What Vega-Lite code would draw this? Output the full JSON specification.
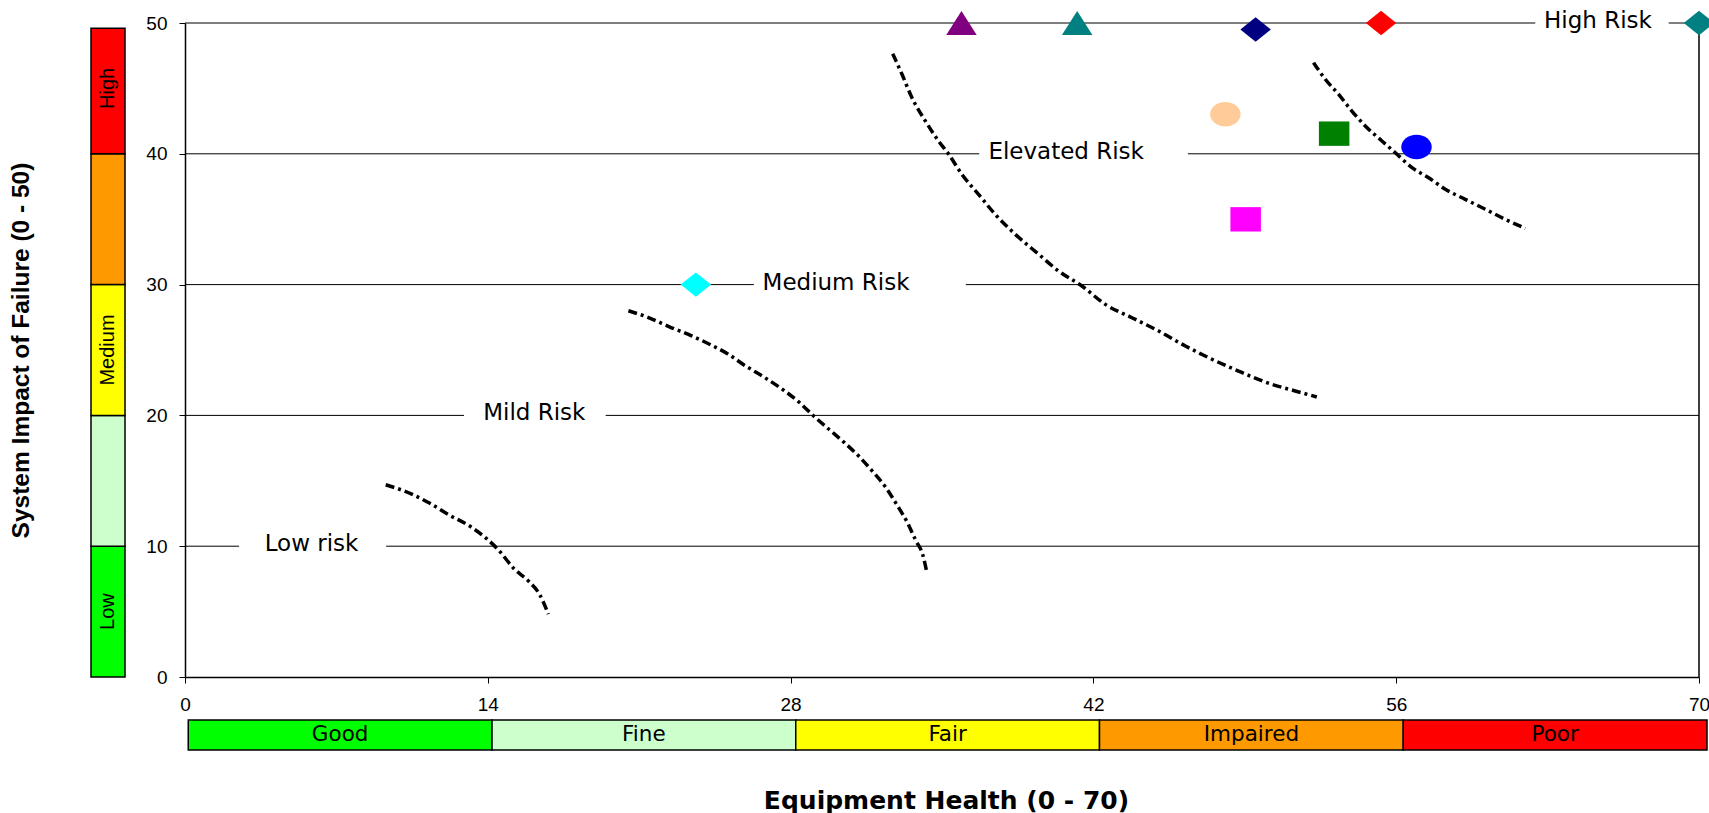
{
  "$schema": "https://vega.github.io/schema/vega-lite/v6.json",
  "background": "white",
  "padding": {"left": 8, "top": 10, "right": 0, "bottom": 0},
  "config": {
    "view": {"stroke": null},
    "font": "DejaVu Sans",
    "axis": {"domainColor": "black", "tickColor": "black", "labelColor": "black", "titleColor": "black", "grid": false}
  },
  "bounds": "flush",
  "spacing": 60,
  "resolve": {"scale": {"color": "independent", "shape": "independent"}},
  "hconcat": [
    {
      "width": 34,
      "height": 654,
      "layer": [
        {
          "data": {"values": [
            {"band": "Low", "lo": 0, "hi": 10},
            {"band": "Low-Medium", "lo": 10, "hi": 20},
            {"band": "Medium", "lo": 20, "hi": 30},
            {"band": "Medium-High", "lo": 30, "hi": 40},
            {"band": "High", "lo": 40, "hi": 49.6}
          ]},
          "mark": {"type": "rect", "stroke": "black", "strokeWidth": 1.5},
          "encoding": {
            "y": {"field": "lo", "type": "quantitative", "scale": {"domain": [0, 50], "nice": false},
              "axis": {"title": "System Impact of Failure (0 - 50)", "labels": false, "ticks": false, "domain": false,
                "titleFont": "Liberation Sans", "titleFontSize": 24.5, "titleFontWeight": "bold", "titlePadding": 58}},
            "y2": {"field": "hi"},
            "color": {"field": "band", "type": "nominal", "legend": null,
              "scale": {"domain": ["Low", "Low-Medium", "Medium", "Medium-High", "High"],
                "range": ["#00FF00", "#CCFFCC", "#FFFF00", "#FF9900", "#FF0000"]}}
          }
        },
        {
          "data": {"values": [
            {"label": "Low", "mid": 5},
            {"label": "Medium", "mid": 25},
            {"label": "High", "mid": 45}
          ]},
          "mark": {"type": "text", "angle": 270, "font": "Liberation Sans", "fontSize": 20, "baseline": "middle", "align": "center", "color": "black"},
          "encoding": {
            "y": {"field": "mid", "type": "quantitative"},
            "text": {"field": "label"}
          }
        }
      ]
    },
    {
      "bounds": "flush",
      "spacing": 43,
      "resolve": {"scale": {"color": "independent", "shape": "independent"}},
      "vconcat": [
        {
          "width": 1514,
          "height": 654,
          "encoding": {
            "x": {"field": "x", "type": "quantitative", "scale": {"domain": [0, 70], "nice": false, "zero": false},
              "axis": {"title": null, "values": [0, 14, 28, 42, 56, 70], "tickSize": 6, "labelPadding": 12, "labelFont": "Liberation Sans", "labelFontSize": 19, "domainWidth": 1.5, "labelFlush": false}},
            "y": {"field": "y", "type": "quantitative", "scale": {"domain": [0, 50], "nice": false, "zero": false},
              "axis": {"title": null, "values": [0, 10, 20, 30, 40, 50], "tickSize": 6, "labelPadding": 12, "labelFont": "Liberation Sans", "labelFontSize": 19, "domainWidth": 1.5, "labelFlush": false}}
          },
          "layer": [
            {
              "data": {"values": [
                {"x": 0, "x2": 2.5, "y": 10}, {"x": 9.3, "x2": 70, "y": 10},
                {"x": 0, "x2": 12.9, "y": 20}, {"x": 19.45, "x2": 70, "y": 20},
                {"x": 0, "x2": 26.3, "y": 30}, {"x": 36.1, "x2": 70, "y": 30},
                {"x": 0, "x2": 36.72, "y": 40}, {"x": 46.37, "x2": 70, "y": 40},
                {"x": 0, "x2": 62.43, "y": 50}, {"x": 68.6, "x2": 70, "y": 50}
              ]},
              "mark": {"type": "rule", "color": "black", "strokeWidth": 1},
              "encoding": {"x2": {"field": "x2"}}
            },
            {
              "data": {"values": [{"x": 70, "y": 0, "y2": 50}]},
              "mark": {"type": "rule", "color": "black", "strokeWidth": 1.5},
              "encoding": {"y2": {"field": "y2"}}
            },
            {
              "data": {"values": [
                {"curve": "A", "x": 9.28, "y": 14.7}, {"curve": "A", "x": 10.46, "y": 14.0}, {"curve": "A", "x": 11.3, "y": 13.3},
                {"curve": "A", "x": 12.2, "y": 12.4}, {"curve": "A", "x": 13.2, "y": 11.5}, {"curve": "A", "x": 14.0, "y": 10.5},
                {"curve": "A", "x": 14.5, "y": 9.7}, {"curve": "A", "x": 15.2, "y": 8.3}, {"curve": "A", "x": 15.9, "y": 7.3},
                {"curve": "A", "x": 16.4, "y": 6.3}, {"curve": "A", "x": 16.8, "y": 4.8},
                {"curve": "B", "x": 20.5, "y": 28.0}, {"curve": "B", "x": 21.4, "y": 27.5}, {"curve": "B", "x": 22.5, "y": 26.7},
                {"curve": "B", "x": 23.4, "y": 26.1}, {"curve": "B", "x": 24.3, "y": 25.4}, {"curve": "B", "x": 25.1, "y": 24.7},
                {"curve": "B", "x": 25.9, "y": 23.8}, {"curve": "B", "x": 26.8, "y": 22.9}, {"curve": "B", "x": 27.7, "y": 21.9},
                {"curve": "B", "x": 28.4, "y": 21.0}, {"curve": "B", "x": 29.1, "y": 19.9}, {"curve": "B", "x": 29.8, "y": 18.9},
                {"curve": "B", "x": 30.5, "y": 17.9}, {"curve": "B", "x": 31.2, "y": 16.8}, {"curve": "B", "x": 31.8, "y": 15.7},
                {"curve": "B", "x": 32.4, "y": 14.5}, {"curve": "B", "x": 32.9, "y": 13.2}, {"curve": "B", "x": 33.4, "y": 11.8},
                {"curve": "B", "x": 33.8, "y": 10.4}, {"curve": "B", "x": 34.1, "y": 9.4}, {"curve": "B", "x": 34.3, "y": 8.0},
                {"curve": "C", "x": 32.72, "y": 47.65}, {"curve": "C", "x": 33.15, "y": 46.08}, {"curve": "C", "x": 33.61, "y": 44.29},
                {"curve": "C", "x": 34.23, "y": 42.51}, {"curve": "C", "x": 34.84, "y": 40.98}, {"curve": "C", "x": 35.31, "y": 39.96},
                {"curve": "C", "x": 35.92, "y": 38.43}, {"curve": "C", "x": 36.69, "y": 36.9}, {"curve": "C", "x": 37.46, "y": 35.37},
                {"curve": "C", "x": 38.39, "y": 33.84}, {"curve": "C", "x": 39.47, "y": 32.32}, {"curve": "C", "x": 40.39, "y": 31.04},
                {"curve": "C", "x": 41.47, "y": 29.89}, {"curve": "C", "x": 42.55, "y": 28.49}, {"curve": "C", "x": 43.78, "y": 27.47},
                {"curve": "C", "x": 45.02, "y": 26.45}, {"curve": "C", "x": 46.25, "y": 25.31}, {"curve": "C", "x": 47.17, "y": 24.54},
                {"curve": "C", "x": 48.71, "y": 23.39}, {"curve": "C", "x": 50.25, "y": 22.38}, {"curve": "C", "x": 51.33, "y": 21.87},
                {"curve": "C", "x": 52.33, "y": 21.41},
                {"curve": "D", "x": 52.18, "y": 46.97}, {"curve": "D", "x": 52.72, "y": 45.7}, {"curve": "D", "x": 53.34, "y": 44.55},
                {"curve": "D", "x": 53.95, "y": 43.27}, {"curve": "D", "x": 54.57, "y": 42.13}, {"curve": "D", "x": 55.34, "y": 40.98},
                {"curve": "D", "x": 55.96, "y": 40.08}, {"curve": "D", "x": 56.73, "y": 38.94}, {"curve": "D", "x": 57.5, "y": 38.17},
                {"curve": "D", "x": 58.27, "y": 37.29}, {"curve": "D", "x": 59.19, "y": 36.52}, {"curve": "D", "x": 60.12, "y": 35.76},
                {"curve": "D", "x": 61.04, "y": 34.99}, {"curve": "D", "x": 61.97, "y": 34.3}
              ]},
              "mark": {"type": "line", "color": "black", "strokeWidth": 3.5, "strokeDash": [9, 4, 3, 4], "interpolate": "monotone"},
              "encoding": {"detail": {"field": "curve", "type": "nominal"}}
            },
            {
              "data": {"values": [
                {"item": "Unit 1", "marker": "triangle", "x": 35.9, "y": 50},
                {"item": "Unit 2", "marker": "triangle", "x": 41.25, "y": 50},
                {"item": "Unit 3", "marker": "diamond", "x": 49.5, "y": 49.5},
                {"item": "Unit 4", "marker": "diamond", "x": 55.3, "y": 50},
                {"item": "Unit 5", "marker": "diamond", "x": 70, "y": 50},
                {"item": "Unit 6", "marker": "ellipse", "x": 48.1, "y": 43.02},
                {"item": "Unit 7", "marker": "rectangle", "x": 53.13, "y": 41.54},
                {"item": "Unit 8", "marker": "ellipse", "x": 56.94, "y": 40.52},
                {"item": "Unit 9", "marker": "rectangle", "x": 49.04, "y": 34.99},
                {"item": "Unit 10", "marker": "diamond", "x": 23.62, "y": 30}
              ]},
              "mark": {"type": "point", "filled": true, "size": 930, "opacity": 1},
              "encoding": {
                "shape": {"field": "marker", "type": "nominal", "legend": null,
                  "scale": {"domain": ["triangle", "diamond", "ellipse", "rectangle"],
                    "range": ["M0,-0.78L1,0.78L-1,0.78Z", "M0,-0.8L1,0L0,0.8L-1,0Z", "M-1,0A1,0.8,0,1,1,1,0A1,0.8,0,1,1,-1,0Z", "M-1,-0.8L1,-0.8L1,0.8L-1,0.8Z"]}},
                "color": {"field": "item", "type": "nominal", "legend": null,
                  "scale": {"domain": ["Unit 1", "Unit 2", "Unit 3", "Unit 4", "Unit 5", "Unit 6", "Unit 7", "Unit 8", "Unit 9", "Unit 10"],
                    "range": ["#800080", "#008080", "#000080", "#FF0000", "#008080", "#FFCC99", "#008000", "#0000FF", "#FF00FF", "#00FFFF"]}}
              }
            },
            {
              "data": {"values": [
                {"label": "Low risk", "x": 5.85, "y": 10},
                {"label": "Mild Risk", "x": 16.15, "y": 20},
                {"label": "Medium Risk", "x": 30.1, "y": 30},
                {"label": "Elevated Risk", "x": 40.74, "y": 40},
                {"label": "High Risk", "x": 65.33, "y": 50}
              ]},
              "mark": {"type": "text", "fontSize": 23, "baseline": "middle", "align": "center", "dy": -2, "color": "black"},
              "encoding": {"text": {"field": "label"}}
            }
          ]
        },
        {
          "width": 1522,
          "height": 30,
          "encoding": {
            "x": {"field": "start", "type": "quantitative", "scale": {"domain": [-0.15, 70], "nice": false, "zero": false},
              "axis": {"title": "Equipment Health (0 - 70)", "labels": false, "ticks": false, "domain": false,
                "titleFontSize": 25, "titleFontWeight": "bold", "titleY": 50, "titleBaseline": "middle"}}
          },
          "layer": [
            {
              "data": {"values": [
                {"state": "Good", "start": 0, "end": 14},
                {"state": "Fine", "start": 14, "end": 28},
                {"state": "Fair", "start": 28, "end": 42},
                {"state": "Impaired", "start": 42, "end": 56},
                {"state": "Poor", "start": 56, "end": 70}
              ]},
              "mark": {"type": "rect", "stroke": "black", "strokeWidth": 1.5},
              "encoding": {
                "x2": {"field": "end"},
                "color": {"field": "state", "type": "nominal", "legend": null,
                  "scale": {"domain": ["Good", "Fine", "Fair", "Impaired", "Poor"],
                    "range": ["#00FF00", "#CCFFCC", "#FFFF00", "#FF9900", "#FF0000"]}}
              }
            },
            {
              "data": {"values": [
                {"state": "Good", "start": 7},
                {"state": "Fine", "start": 21},
                {"state": "Fair", "start": 35},
                {"state": "Impaired", "start": 49},
                {"state": "Poor", "start": 63}
              ]},
              "mark": {"type": "text", "fontSize": 21.5, "baseline": "middle", "align": "center", "color": "black"},
              "encoding": {"text": {"field": "state"}}
            }
          ]
        }
      ]
    }
  ]
}
